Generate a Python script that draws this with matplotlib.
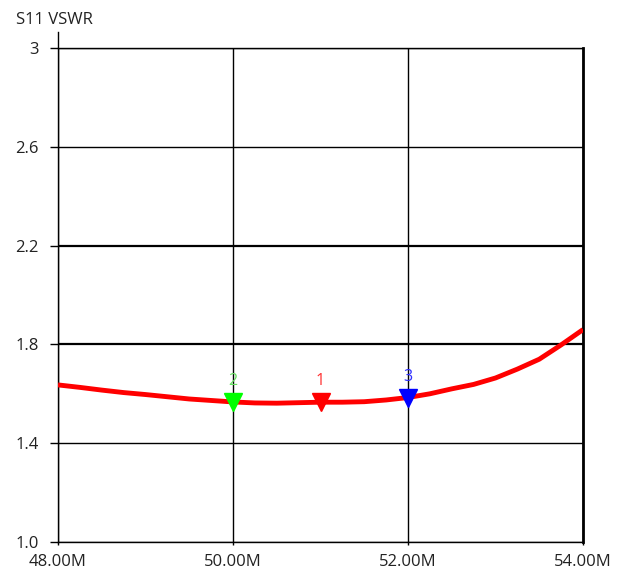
import matplotlib.pyplot as plt

freq_mhz = [48.0, 48.25, 48.5, 48.75, 49.0, 49.25, 49.5, 49.75, 50.0,
            50.25, 50.5, 50.75, 51.0, 51.25, 51.5, 51.75, 52.0, 52.25,
            52.5, 52.75, 53.0, 53.25, 53.5, 53.75, 54.0]
vswr = [1.636, 1.626, 1.615, 1.605, 1.597, 1.588, 1.579, 1.573, 1.567,
        1.563, 1.562, 1.564, 1.566, 1.566, 1.568, 1.575, 1.585, 1.600,
        1.620, 1.638, 1.664, 1.700, 1.740, 1.798, 1.860]

marker_ids = ["1", "2", "3"]
marker_freq = [51.0, 50.0, 52.0]
marker_vswr = [1.566, 1.567, 1.585]
marker_colors = ["#ff0000", "#00ff00", "#0000ff"]
marker_text_colors = ["#ff3030", "#66e060", "#3030ff"]

x_ticks = [48, 50, 52, 54]
x_labels = ["48.00M", "50.00M", "52.00M", "54.00M"]
y_ticks = [1.0, 1.4, 1.8, 2.2, 2.6, 3.0]
y_labels = ["1.0", "1.4", "1.8", "2.2", "2.6", "3"]


def main():
    plt.rcParams["font.family"] = ["Open Sans", "DejaVu Sans"]
    fig = plt.figure(figsize=(6.22, 5.73), dpi=100)
    ax = fig.add_axes([58 / 622, 1 - 542 / 573, 525 / 622, 494 / 573])

    ax.plot(freq_mhz, vswr, color="#ff0000", linewidth=3.5, zorder=3,
            solid_capstyle="butt", solid_joinstyle="round")

    for mid, f, v, c, tc in zip(marker_ids, marker_freq, marker_vswr,
                                marker_colors, marker_text_colors):
        ax.plot([f], [v], marker="v", markersize=13, color=c,
                linestyle="none", zorder=4)
        ax.annotate(mid, (f, v), xytext=(0, 15), textcoords="offset points",
                    ha="center", va="center", fontsize=11.5, color=tc,
                    zorder=5)

    ax.set_xlim(48, 54)
    ax.set_ylim(1.0, 3.0)
    ax.set_xticks(x_ticks)
    ax.set_xticklabels(x_labels, fontsize=12, color="#222222")
    ax.set_yticks(y_ticks)
    ax.set_yticklabels(y_labels, fontsize=12, color="#222222")
    ax.tick_params(axis="y", length=6, width=1, pad=8, color="black")
    ax.tick_params(axis="x", length=2.5, width=1, pad=6, color="black")

    ax.grid(True, color="black", linewidth=1)
    for line, t in zip(ax.get_ygridlines(), y_ticks):
        if t in (1.8, 2.2):
            line.set_linewidth(1.6)

    for side in ["top", "bottom", "left"]:
        ax.spines[side].set_linewidth(1)
        ax.spines[side].set_color("black")
    ax.spines["right"].set_linewidth(2)
    ax.spines["left"].set_bounds(1.0, 3.065)

    fig.text(16 / 622, 1 - 20 / 573, "S11 VSWR", fontsize=12,
             color="#222222", ha="left", va="center")

    fig.savefig("out.png", dpi=100)


if __name__ == "__main__":
    main()
